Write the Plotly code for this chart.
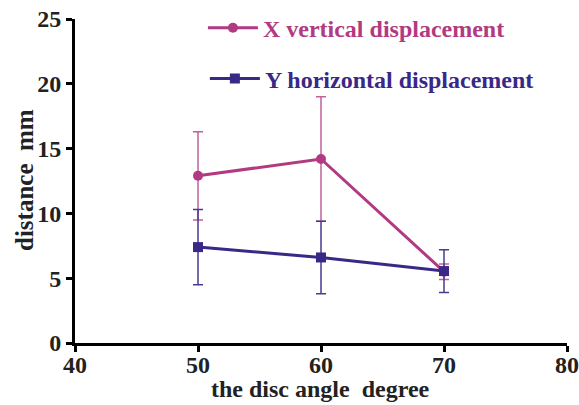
import plotly.graph_objects as go

angles = [50, 60, 70]
x_vertical = [12.9, 14.2, 5.5]
x_vertical_err = [3.4, 4.8, 0.6]
y_horizontal = [7.4, 6.6, 5.55]
y_horizontal_err = [2.9, 2.8, 1.65]

x_ticks = [40, 50, 60, 70, 80]
y_ticks = [0, 5, 10, 15, 20, 25]

c_x = "#B23A82"
c_y = "#3A2886"
font_family = "Liberation Serif, Times New Roman, serif"

fig = go.Figure()
fig.add_trace(go.Scatter(
    x=angles, y=x_vertical, mode="lines+markers",
    name="X vertical displacement",
    line=dict(color=c_x, width=3),
    marker=dict(symbol="circle", size=10, color=c_x),
    error_y=dict(type="data", array=x_vertical_err, visible=True,
                 color="#C2609C", thickness=1.5, width=5),
    legend="legend", showlegend=True,
))
fig.add_trace(go.Scatter(
    x=angles, y=y_horizontal, mode="lines+markers",
    name="Y horizontal displacement",
    line=dict(color=c_y, width=3),
    marker=dict(symbol="square", size=10, color=c_y),
    error_y=dict(type="data", array=y_horizontal_err, visible=True,
                 color="#4A3A92", thickness=1.5, width=5),
    legend="legend2", showlegend=True,
))

axis_common = dict(
    showline=True, linecolor="black", linewidth=3,
    ticks="outside", ticklen=6, tickwidth=2.5, tickcolor="black",
    showgrid=False, zeroline=False, automargin=False,
    tickfont=dict(family=font_family, size=24, color="#222", weight="bold"),
)

fig.update_layout(
    width=579, height=405,
    margin=dict(l=75, r=12, t=19, b=62, autoexpand=False),
    paper_bgcolor="white", plot_bgcolor="white",
    showlegend=True,
    xaxis=dict(range=[40, 80], tickvals=x_ticks, ticklabelstandoff=-8, **axis_common),
    yaxis=dict(range=[0, 25], tickvals=y_ticks, **axis_common),
    legend=dict(x=0.26, y=0.972, xanchor="left", yanchor="middle",
                bgcolor="rgba(0,0,0,0)", itemwidth=50,
                font=dict(family=font_family, size=24, color=c_x, weight="bold")),
    legend2=dict(x=0.264, y=0.815, xanchor="left", yanchor="middle",
                 bgcolor="rgba(0,0,0,0)", itemwidth=50,
                 font=dict(family=font_family, size=24, color=c_y, weight="bold")),
    annotations=[
        dict(text="<b>distance  mm</b>", xref="paper", yref="paper",
             x=-51/492, y=(343-180)/324, textangle=-90,
             showarrow=False, xanchor="center", yanchor="middle",
             font=dict(family=font_family, size=25, color="#222")),
        dict(text="<b>the disc angle  degree</b>", xref="paper", yref="paper",
             x=(320-75)/492, y=-(404-343)/324,
             showarrow=False, xanchor="center", yanchor="bottom",
             font=dict(family=font_family, size=24, color="#222")),
    ],
)

fig.write_html("out.html")
